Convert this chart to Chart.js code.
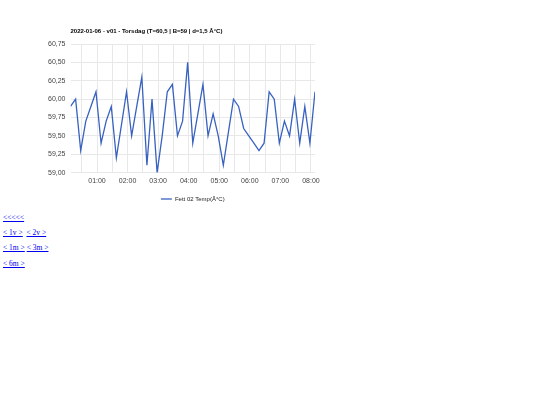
<!DOCTYPE html>
<html>
<head>
<meta charset="utf-8">
<script src="https://cdn.jsdelivr.net/npm/chart.js@4.4.1/dist/chart.umd.min.js"></script>
<style>
  body { margin: 0; background: #fff; }
  #wrap { position: absolute; left: 43px; top: 20px; width: 303px; height: 190px; }
  .lnk { position: absolute; left: 3px; font-family: "Liberation Serif", "DejaVu Serif", serif; font-size: 7.5px; }
  .lnk a { color: #0000ee; text-decoration: underline; }
</style>
</head>
<body>
<div id="wrap"><canvas id="grafico"></canvas></div>
<div class="lnk" style="top:213px"><a href="#">&lt;&lt;&lt;&lt;&lt;</a></div>
<div class="lnk" style="top:228px"><a href="#">&lt; 1v &gt;</a> &nbsp;<a href="#">&lt; 2v &gt;</a></div>
<div class="lnk" style="top:243px"><a href="#">&lt; 1m &gt;</a> <a href="#">&lt; 3m &gt;</a></div>
<div class="lnk" style="top:259px"><a href="#">&lt; 6m &gt;</a></div>
<script>
const titulo = "2022-01-06 - v01 - Torsdag (T=60,5 | B=59 | d=1,5 Â°C)";
const legenda = "Fett 02 Temp(Â°C)";

// minutter etter midnatt, måling hvert 10. minutt
const minutter = [];
for (let m = 8; m <= 488; m += 10) minutter.push(m);

const temperatur = [
  59.9, 60.0, 59.3, 59.7, 59.9, 60.1, 59.4, 59.7, 59.9, 59.2,
  59.65, 60.1, 59.5, 59.9, 60.3, 59.1, 60.0, 59.0, 59.5, 60.1,
  60.2, 59.5, 59.7, 60.5, 59.4, 59.8, 60.2, 59.5, 59.8, 59.5,
  59.1, 59.55, 60.0, 59.9, 59.6, 59.5, 59.4, 59.3, 59.4, 60.1,
  60.0, 59.4, 59.7, 59.5, 60.0, 59.4, 59.9, 59.4, 60.1
];

const yTicks = [59.0, 59.25, 59.5, 59.75, 60.0, 60.25, 60.5, 60.75];
const xTicks = [30, 60, 90, 120, 150, 180, 210, 240, 270, 300, 330, 360, 390, 420, 450, 480];

const linjeFarge = "#3862c0";

function klokke(min) {
  const h = Math.floor(min / 60), m = min % 60;
  return String(h).padStart(2, "0") + ":" + String(m).padStart(2, "0");
}

// tittel over venstre kant av plottet, legende sentrert under
const tekstPlugin = {
  id: "tekst",
  afterDraw(chart) {
    const ctx = chart.ctx;
    const area = chart.chartArea;
    ctx.save();
    ctx.font = "bold 6px 'Liberation Sans', Arial, sans-serif";
    ctx.fillStyle = "#000";
    ctx.textBaseline = "middle";
    ctx.fillText(titulo, area.left, 11.5);

    ctx.font = "6px 'Liberation Sans', Arial, sans-serif";
    const tw = ctx.measureText(legenda).width;
    const total = 11 + 3 + tw;
    const x0 = (area.left + area.right) / 2 - total / 2;
    const y0 = 179;
    ctx.strokeStyle = linjeFarge;
    ctx.lineWidth = 1.3;
    ctx.beginPath();
    ctx.moveTo(x0, y0);
    ctx.lineTo(x0 + 11, y0);
    ctx.stroke();
    ctx.fillStyle = "#222";
    ctx.fillText(legenda, x0 + 14, y0);
    ctx.restore();
  }
};

Chart.defaults.font.family = "'Liberation Sans', Arial, sans-serif";
Chart.defaults.font.size = 7;
Chart.defaults.color = "#444";

const grafico = new Chart(document.getElementById("grafico"), {
  type: "line",
  data: {
    datasets: [{
      label: legenda,
      data: minutter.map((m, i) => ({ x: m, y: temperatur[i] })),
      borderColor: linjeFarge,
      borderWidth: 1.3,
      pointRadius: 0,
      tension: 0,
      fill: false
    }]
  },
  options: {
    responsive: true,
    maintainAspectRatio: false,
    animation: false,
    layout: { padding: { top: 24, right: 31, left: 0, bottom: 21 } },
    plugins: {
      legend: { display: false },
      title: { display: false },
      tooltip: { enabled: false }
    },
    scales: {
      x: {
        type: "linear",
        min: minutter[0],
        max: minutter[minutter.length - 1],
        afterBuildTicks: (scale) => { scale.ticks = xTicks.map(v => ({ value: v })); },
        ticks: {
          autoSkip: false,
          maxRotation: 0,
          padding: 4,
          callback: (v) => (v % 60 === 0 ? klokke(v) : "")
        },
        grid: { color: "#e8e8e8", drawTicks: false },
        border: { display: false }
      },
      y: {
        min: 59,
        max: 60.75,
        afterBuildTicks: (scale) => { scale.ticks = yTicks.map(v => ({ value: v })); },
        ticks: {
          padding: 5,
          callback: (v) => v.toFixed(2).replace(".", ",")
        },
        grid: { color: "#e8e8e8", drawTicks: false },
        border: { display: false }
      }
    }
  },
  plugins: [tekstPlugin]
});
</script>
</body>
</html>
